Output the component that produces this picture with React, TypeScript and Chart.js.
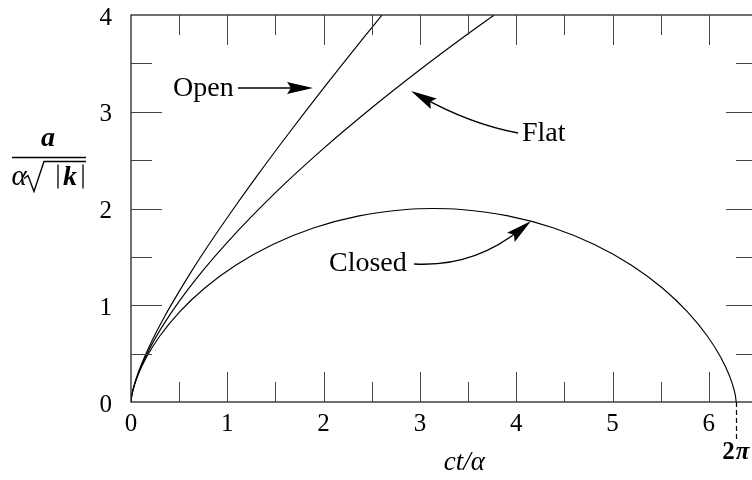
import React, { useEffect, useRef } from "react";
import { Chart, registerables } from "chart.js";

Chart.register(...registerables);

// ---- data ----
const closedX = [0, 0.0026, 0.0206, 0.0684, 0.1585, 0.301, 0.5025, 0.766, 1.0907, 1.4719, 1.9015, 2.3683, 2.8589, 3.1416, 3.4243, 3.9149, 4.3817, 4.8113, 5.1925, 5.5172, 5.7807, 5.9822, 6.1247, 6.2148, 6.2626, 6.2806, 6.2832];
const closedY = [0, 0.0311, 0.1224, 0.2683, 0.4597, 0.6847, 0.9293, 1.1782, 1.4161, 1.6282, 1.8011, 1.9243, 1.99, 2.0, 1.99, 1.9243, 1.8011, 1.6282, 1.4161, 1.1782, 0.9293, 0.6847, 0.4597, 0.2683, 0.1224, 0.0311, 0];

const openX = [0, 0.0026, 0.0211, 0.0723, 0.1752, 0.3519, 0.6293, 0.8157, 1.0404, 1.3087, 1.6269, 2.0017, 2.4412, 2.6066];
const openY = [0, 0.0314, 0.1276, 0.2947, 0.5431, 0.8884, 1.3524, 1.6377, 1.9642, 2.3371, 2.7622, 3.2462, 3.7966, 4.0];

const flatX = [0, 0.005, 0.02, 0.05, 0.1, 0.2, 0.35, 0.5, 0.75, 1, 1.5, 2, 2.5, 3, 3.5, 3.771];
const flatY = [0, 0.0483, 0.1216, 0.2241, 0.3557, 0.5647, 0.8199, 1.0401, 1.3629, 1.651, 2.1635, 2.6208, 3.0411, 3.4342, 3.8059, 4.0];

const xTickLabels = [0, 1, 2, 3, 4, 5, 6];
const yTickLabels = [0, 1, 2, 3, 4];
const xMajorTicks = [1, 2, 3, 4, 5, 6];
const xMinorTicks = [0.5, 1.5, 2.5, 3.5, 4.5, 5.5, 6.5];
const yMajorTicks = [1, 2, 3];
const yMinorTicks = [0.5, 1.5, 2.5, 3.5];

const labelTexts = ["Open", "Flat", "Closed"];
const labelPos = [
  [0.436, 3.235],
  [4.06, 2.77],
  [2.056, 1.43],
];
// arrows: start, control, end (data coordinates)
const arrows = [
  [[1.111, 3.245], [1.5, 3.245], [1.89, 3.245]],
  [[4.019, 2.78], [3.52, 2.873], [2.908, 3.214]],
  [[2.939, 1.426], [3.56, 1.39], [4.154, 1.871]],
];
const closedEnd = 6.2832;

const SERIF = '"Liberation Serif", "Times New Roman", serif';

function toPts(xs: number[], ys: number[]) {
  return xs.map((x, i) => ({ x, y: ys[i] }));
}

const decorPlugin = {
  id: "decor",
  afterDatasetsDraw(chart: any) {
    const { ctx, chartArea: a, scales } = chart;
    const x = scales.x;
    const y = scales.y;
    ctx.save();
    // frame
    ctx.strokeStyle = "#222";
    ctx.lineWidth = 1.3;
    ctx.strokeRect(a.left, a.top, a.right - a.left, a.bottom - a.top);
    // ticks
    ctx.strokeStyle = "#444";
    ctx.lineWidth = 1;
    const tick = (x1: number, y1: number, x2: number, y2: number) => {
      ctx.beginPath();
      ctx.moveTo(x1, y1);
      ctx.lineTo(x2, y2);
      ctx.stroke();
    };
    const drawX = (vals: number[], len: number) => {
      vals.forEach((v) => {
        const px = Math.round(x.getPixelForValue(v)) + 0.5;
        tick(px, a.bottom, px, a.bottom - len);
        tick(px, a.top, px, a.top + len);
      });
    };
    const drawY = (vals: number[], len: number) => {
      vals.forEach((v) => {
        const py = Math.round(y.getPixelForValue(v)) + 0.5;
        tick(a.left, py, a.left + len, py);
        tick(a.right, py, a.right - len, py);
      });
    };
    drawX(xMajorTicks, 30);
    drawX(xMinorTicks, 20);
    drawY(yMajorTicks, 31);
    drawY(yMinorTicks, 21);

    // annotations
    ctx.fillStyle = "#000";
    ctx.font = `28px ${SERIF}`;
    ctx.textBaseline = "middle";
    ctx.textAlign = "left";
    labelTexts.forEach((t, i) => {
      ctx.fillText(t, x.getPixelForValue(labelPos[i][0]), y.getPixelForValue(labelPos[i][1]));
    });
    ctx.strokeStyle = "#000";
    ctx.lineWidth = 1.4;
    arrows.forEach((ar) => {
      const [s, c, e] = ar.map((p) => [x.getPixelForValue(p[0]), y.getPixelForValue(p[1])]);
      const dx = e[0] - c[0];
      const dy = e[1] - c[1];
      const L = Math.hypot(dx, dy);
      const ux = dx / L;
      const uy = dy / L;
      const headLen = 26;
      const halfW = 6;
      const bx = e[0] - ux * headLen;
      const by = e[1] - uy * headLen;
      ctx.beginPath();
      ctx.moveTo(s[0], s[1]);
      ctx.quadraticCurveTo(c[0], c[1], e[0] - ux * 12, e[1] - uy * 12);
      ctx.stroke();
      ctx.beginPath();
      ctx.moveTo(e[0], e[1]);
      ctx.lineTo(bx - uy * halfW, by + ux * halfW);
      ctx.lineTo(bx + ux * 4, by + uy * 4);
      ctx.lineTo(bx + uy * halfW, by - ux * halfW);
      ctx.closePath();
      ctx.fill();
    });

    // 2π marker
    const ex = Math.round(x.getPixelForValue(closedEnd)) + 0.5;
    ctx.strokeStyle = "#000";
    ctx.lineWidth = 1.2;
    ctx.setLineDash([5, 3]);
    tick(ex, a.bottom, ex, a.bottom + 38);
    ctx.setLineDash([]);
    ctx.font = `bold 25px ${SERIF}`;
    ctx.textAlign = "center";
    ctx.fillText("2", ex - 8, a.bottom + 51);
    ctx.font = `italic bold 25px ${SERIF}`;
    ctx.fillText("π", ex + 6, a.bottom + 51);

    // x title
    ctx.font = `italic 27px ${SERIF}`;
    ctx.textAlign = "center";
    ctx.fillText("ct/α", x.getPixelForValue(3.46), a.bottom + 61);

    // y title (fraction)
    const cx = a.left - 83;
    const bar = Math.round(y.getPixelForValue(2.53)) + 0.5;
    ctx.font = `italic bold 28px ${SERIF}`;
    ctx.textAlign = "center";
    ctx.fillText("a", cx, bar - 19);
    ctx.lineWidth = 1.3;
    tick(cx - 36, bar, cx + 38, bar);
    ctx.font = `italic 29px ${SERIF}`;
    ctx.textAlign = "center";
    ctx.fillText("α", cx - 29, bar + 20);
    ctx.beginPath();
    ctx.moveTo(cx - 24, bar + 21);
    ctx.lineTo(cx - 20, bar + 18);
    ctx.lineTo(cx - 14, bar + 34);
    ctx.lineTo(cx - 4, bar + 4);
    ctx.lineTo(cx + 38, bar + 4);
    ctx.lineWidth = 1.4;
    ctx.stroke();
    ctx.lineWidth = 1.3;
    tick(cx + 10, bar + 7, cx + 10, bar + 31);
    tick(cx + 35, bar + 7, cx + 35, bar + 31);
    ctx.font = `italic bold 28px ${SERIF}`;
    ctx.fillText("k", cx + 22, bar + 20);
    ctx.restore();
  },
};

export default function App() {
  const ref = useRef<HTMLCanvasElement | null>(null);
  useEffect(() => {
    document.body.style.margin = "0";
    const canvas = ref.current;
    if (!canvas) return;
    const line = {
      showLine: true,
      pointRadius: 0,
      borderColor: "#000",
      borderWidth: 1.15,
      fill: false,
      cubicInterpolationMode: "monotone" as const,
    };
    const chart = new Chart(canvas, {
      type: "scatter",
      data: {
        datasets: [
          { label: "Closed", data: toPts(closedX, closedY), ...line },
          { label: "Open", data: toPts(openX, openY), ...line },
          { label: "Flat", data: toPts(flatX, flatY), ...line },
        ],
      },
      options: {
        animation: false,
        responsive: false,
        devicePixelRatio: 1,
        layout: { padding: { left: 0, right: 3, top: 15, bottom: 0 } },
        plugins: { legend: { display: false }, tooltip: { enabled: false } },
        scales: {
          x: {
            type: "linear",
            min: 0,
            max: 6.5,
            afterBuildTicks: (s: any) => {
              s.ticks = xTickLabels.map((v) => ({ value: v }));
            },
            afterFit: (s: any) => {
              s.height = 78;
              s.paddingLeft = 0;
              s.paddingRight = 0;
            },
            grid: { display: false, drawTicks: false },
            border: { display: false },
            ticks: {
              color: "#000",
              font: { family: SERIF, size: 25 },
              padding: 7,
              maxRotation: 0,
              autoSkip: false,
            },
          },
          y: {
            type: "linear",
            min: 0,
            max: 4,
            afterBuildTicks: (s: any) => {
              s.ticks = yTickLabels.map((v) => ({ value: v }));
            },
            afterFit: (s: any) => {
              s.width = 131;
              s.paddingTop = 0;
              s.paddingBottom = 0;
            },
            grid: { display: false, drawTicks: false },
            border: { display: false },
            ticks: {
              color: "#000",
              font: { family: SERIF, size: 25 },
              padding: 19,
              labelOffset: 3,
              autoSkip: false,
            },
          },
        },
      },
      plugins: [decorPlugin],
    });
    return () => chart.destroy();
  }, []);
  return (
    <div style={{ width: 752, height: 480, overflow: "hidden", position: "relative", background: "#fff" }}>
      <canvas ref={ref} width={760} height={480} style={{ display: "block" }} />
    </div>
  );
}
